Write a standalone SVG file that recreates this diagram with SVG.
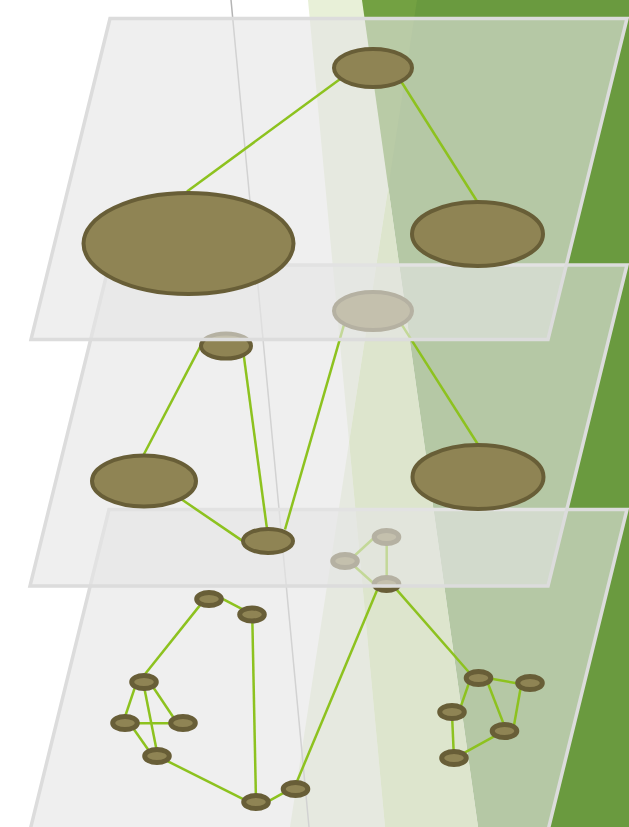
<svg xmlns="http://www.w3.org/2000/svg" width="629" height="827" viewBox="0 0 629 827">
<style>
.plane{fill:#e5e5e5;fill-opacity:0.615;stroke:#dcdcdc;stroke-width:3.5;stroke-linejoin:miter}
.edge{stroke:#8dc21f;stroke-width:2.5;fill:none}
.node{fill:#8f8454;stroke:#685e37;stroke-width:4}
.sm{fill:#8f8454;stroke:#685e37;stroke-width:5}
.beam{fill:#96ba4e;fill-opacity:0.22}
</style>
<g id="background">
<rect width="629" height="827" fill="#ffffff"/>
<polygon points="362,0 629,0 629,827 478,827" fill="#6a9a3f"/>
<polygon class="beam" points="308,0 417,0 349.1,441.9"/>
<polygon class="beam" points="349.1,441.9 385,827 290,827"/>
<polygon points="388.3,187.2 349.1,441.9 385,827 478,827" fill="#d0e5a6"/>
<line x1="231" y1="0" x2="309" y2="827" stroke="#b4b4b4" stroke-width="1.5"/>
</g>

<g id="plane3">
<polygon class="plane" points="109,509.5 627,509.5 548,830.5 30,830.5"/>
<g id="connectors-plane3">
<line class="edge" x1="220.2" y1="597.7" x2="245.1" y2="610.6"/>
<line class="edge" x1="201.9" y1="602.9" x2="143.3" y2="676.3"/>
<line class="edge" x1="252.3" y1="618" x2="255.9" y2="797"/>
<line class="edge" x1="135.5" y1="685.7" x2="124.1" y2="719.5"/>
<line class="edge" x1="152.7" y1="686.5" x2="175" y2="719.8"/>
<line class="edge" x1="144.1" y1="687" x2="156.8" y2="751"/>
<line class="edge" x1="125" y1="723.3" x2="183" y2="723.3"/>
<line class="edge" x1="132.1" y1="726.7" x2="150.7" y2="753.3"/>
<line class="edge" x1="164" y1="759.4" x2="247.2" y2="801.2"/>
<line class="edge" x1="266.4" y1="802.4" x2="287.2" y2="790.9"/>
<line class="edge" x1="295.3" y1="785.4" x2="379" y2="585.4"/>
<line class="edge" x1="376" y1="585.5" x2="352" y2="564"/>
<line class="edge" x1="386.7" y1="580" x2="386.7" y2="540"/>
<line class="edge" x1="352" y1="558" x2="376" y2="536"/>
<line class="edge" x1="394" y1="586.6" x2="471.8" y2="675.5"/>
<line class="edge" x1="490" y1="678.4" x2="521" y2="684"/>
<line class="edge" x1="469.5" y1="681.5" x2="460.3" y2="707.8"/>
<line class="edge" x1="487.5" y1="682.2" x2="504.5" y2="726.1"/>
<line class="edge" x1="520.8" y1="687" x2="513.7" y2="727"/>
<line class="edge" x1="452" y1="714" x2="453.8" y2="755"/>
<line class="edge" x1="461" y1="754.7" x2="497.8" y2="734.3"/>
</g>
<g id="p3-n1"><ellipse class="sm" cx="209" cy="599" rx="12.3" ry="6.5"/></g>
<g id="p3-n2"><ellipse class="sm" cx="252" cy="614.5" rx="12.3" ry="6.5"/></g>
<g id="p3-n3"><ellipse class="sm" cx="144" cy="682" rx="12.3" ry="6.5"/></g>
<g id="p3-n4"><ellipse class="sm" cx="125" cy="723" rx="12.3" ry="6.5"/></g>
<g id="p3-n5"><ellipse class="sm" cx="183" cy="723" rx="12.3" ry="6.5"/></g>
<g id="p3-n6"><ellipse class="sm" cx="157" cy="756" rx="12.3" ry="6.5"/></g>
<g id="p3-n7"><ellipse class="sm" cx="256" cy="802" rx="12.3" ry="6.5"/></g>
<g id="p3-n8"><ellipse class="sm" cx="295.5" cy="789" rx="12.3" ry="6.5"/></g>
<g id="p3-n9"><ellipse class="sm" cx="386.5" cy="584" rx="12.3" ry="6.5"/></g>
<g id="p3-n10"><ellipse class="sm" cx="345" cy="561" rx="12.3" ry="6.5"/></g>
<g id="p3-n11"><ellipse class="sm" cx="386.5" cy="537" rx="12.3" ry="6.5"/></g>
<g id="p3-n12"><ellipse class="sm" cx="478.5" cy="678" rx="12.3" ry="6.5"/></g>
<g id="p3-n13"><ellipse class="sm" cx="530" cy="683" rx="12.3" ry="6.5"/></g>
<g id="p3-n14"><ellipse class="sm" cx="452" cy="712" rx="12.3" ry="6.5"/></g>
<g id="p3-n15"><ellipse class="sm" cx="504.5" cy="731" rx="12.3" ry="6.5"/></g>
<g id="p3-n16"><ellipse class="sm" cx="454" cy="758" rx="12.3" ry="6.5"/></g>
</g>

<g id="plane2">
<polygon class="plane" points="109,265 627,265 548,586 30,586"/>
<g id="connectors-plane2">
<line class="edge" x1="200.8" y1="345.6" x2="143" y2="456"/>
<line class="edge" x1="243.5" y1="353.7" x2="267.1" y2="529.7"/>
<line class="edge" x1="343.8" y1="325.4" x2="285" y2="529.5"/>
<line class="edge" x1="401.4" y1="324.2" x2="478.3" y2="445"/>
<line class="edge" x1="180" y1="498.3" x2="243.2" y2="541.4"/>
</g>
<g id="p2-n1"><ellipse class="node" cx="373" cy="311" rx="39" ry="19"/></g>
<g id="p2-n2"><ellipse class="node" cx="226" cy="346" rx="25" ry="12.5"/></g>
<g id="p2-n3"><ellipse class="node" cx="144" cy="481" rx="52" ry="25.5"/></g>
<g id="p2-n4"><ellipse class="node" cx="478" cy="477" rx="65.5" ry="32"/></g>
<g id="p2-n5"><ellipse class="node" cx="268" cy="541" rx="25" ry="12"/></g>
</g>

<g id="plane1">
<polygon class="plane" points="110,18.5 627,18.5 548,339.5 31,339.5"/>
<g id="connectors-plane1">
<line class="edge" x1="347" y1="74" x2="187" y2="191.5"/>
<line class="edge" x1="398" y1="76.5" x2="477.5" y2="202"/>
</g>
<g id="p1-n1"><ellipse class="node" cx="373" cy="68" rx="39" ry="19"/></g>
<g id="p1-n2"><ellipse class="node" cx="188.5" cy="243.5" rx="105" ry="50.5"/></g>
<g id="p1-n3"><ellipse class="node" cx="477.5" cy="234" rx="65.5" ry="32"/></g>
</g>
</svg>
